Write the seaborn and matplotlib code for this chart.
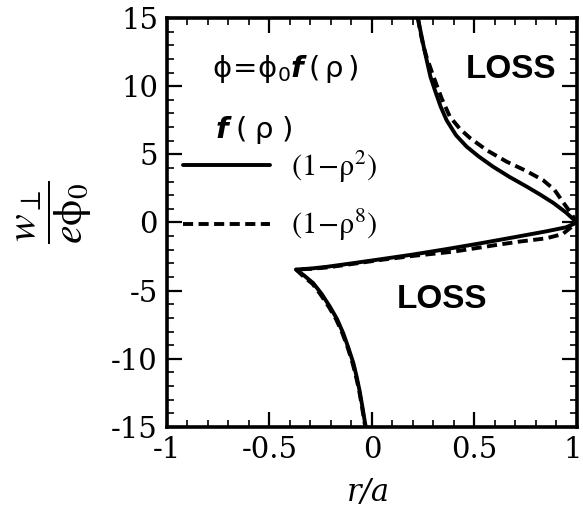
import matplotlib
matplotlib.use("Agg")
import matplotlib.pyplot as plt
from matplotlib.lines import Line2D
from matplotlib.ticker import MultipleLocator
from matplotlib.transforms import ScaledTranslation
import seaborn as sns
import pandas as pd

# curve for f(rho) = 1 - rho^2 (one path: top -> (1,0) -> cusp -> bottom)
r_quad = [0.224, 0.240, 0.255, 0.267, 0.285, 0.307, 0.335, 0.364, 0.41, 0.462,
          0.52, 0.59, 0.67, 0.755, 0.82, 0.885, 0.945, 1.0,
          0.947, 0.85, 0.69, 0.52, 0.364, 0.20, 0.04, -0.10, -0.22, -0.30, -0.37,
          -0.33, -0.286, -0.245, -0.205, -0.17, -0.14, -0.115, -0.091, -0.075,
          -0.061, -0.047, -0.034, -0.03]
w_quad = [15.0, 13.8, 12.7, 11.9, 10.7, 9.7, 8.5, 7.5, 6.4, 5.56,
          4.85, 4.1, 3.35, 2.63, 2.05, 1.43, 0.75, 0.0,
          -0.35, -0.65, -1.09, -1.55, -1.95, -2.35, -2.7, -3.0, -3.25, -3.38, -3.45,
          -3.9, -4.46, -5.25, -6.18, -7.1, -8.13, -9.2, -10.3, -11.3,
          -12.3, -13.5, -14.7, -15.0]

# curve for f(rho) = 1 - rho^8
r_oct = [0.224, 0.234, 0.25, 0.265, 0.30, 0.34, 0.38, 0.43, 0.478, 0.56,
         0.657, 0.75, 0.835, 0.89, 0.93, 0.965, 1.0,
         0.93, 0.85, 0.72, 0.606, 0.50, 0.397, 0.20, 0.04, -0.10, -0.22, -0.30, -0.37,
         -0.335, -0.29, -0.25, -0.21, -0.175, -0.145, -0.118, -0.095, -0.078,
         -0.063, -0.049, -0.036, -0.032]
w_oct = [15.0, 14.1, 13.0, 12.2, 10.7, 9.1, 7.76, 6.85, 6.2, 5.3,
         4.46, 3.8, 3.1, 2.4, 1.53, 0.8, 0.0,
         -0.85, -1.16, -1.4, -1.65, -1.9, -2.14, -2.45, -2.75, -3.05, -3.3, -3.4, -3.45,
         -3.95, -4.5, -5.3, -6.2, -7.1, -8.1, -9.2, -10.3, -11.3,
         -12.3, -13.5, -14.7, -15.0]

profiles = [r"$(1\!-\!\mathrm{\rho}^2)$", r"$(1\!-\!\mathrm{\rho}^8)$"]

df = pd.concat([
    pd.DataFrame({"r": r_quad, "w": w_quad, "profile": profiles[0]}),
    pd.DataFrame({"r": r_oct, "w": w_oct, "profile": profiles[1]}),
])

sns.set_theme(style="ticks")
plt.rcParams["font.family"] = ["DejaVu Serif"]
plt.rcParams["mathtext.fontset"] = "stix"
plt.rcParams["axes.unicode_minus"] = False
for key in ["text.color", "axes.labelcolor", "xtick.color", "ytick.color",
            "axes.edgecolor"]:
    plt.rcParams[key] = "black"

fig = plt.figure(figsize=(5.83, 5.07), dpi=100)
ax = fig.add_axes([0.2864, 0.1578, 0.7033, 0.8067])

dash_map = {profiles[0]: "", profiles[1]: (2.6, 1.4)}
sns.lineplot(data=df, x="r", y="w", style="profile", style_order=profiles,
             dashes=dash_map, color="black", linewidth=2.8, sort=False,
             estimator=None, legend=False, ax=ax)
for ln in ax.lines:
    ln.set_solid_joinstyle("round")
    ln.set_dash_joinstyle("round")

ax.set_xlim(-1, 1)
ax.set_ylim(-15, 15)
ax.xaxis.set_major_locator(MultipleLocator(0.5))
ax.xaxis.set_minor_locator(MultipleLocator(0.1))
ax.yaxis.set_major_locator(MultipleLocator(5))
ax.yaxis.set_minor_locator(MultipleLocator(1))
ax.set_xticks([-1, -0.5, 0, 0.5, 1])
ax.set_xticklabels(["-1", "-0.5", "0", "0.5", "1"])
ax.tick_params(which="both", direction="in", top=True, right=True,
               colors="black", labelsize=21)
ax.tick_params(which="major", length=11, width=1.6, pad=6.5)
ax.tick_params(which="minor", length=5, width=1.2)
for sp in ax.spines.values():
    sp.set_linewidth(2.6)
    sp.set_color("black")

# keep the last x tick label inside the canvas
last = ax.get_xticklabels()[-1]
last.set_transform(last.get_transform() + ScaledTranslation(-4 / 100, 0, fig.dpi_scale_trans))

ax.set_xlabel("r/a", fontsize=22, style="italic", va="center")
ax.xaxis.set_label_coords(0.49, -0.159)
ax.set_ylabel(r"$\dfrac{w_{\perp}}{e\mathrm{\phi}_0}$", fontsize=30, va="center")
ax.yaxis.set_label_coords(-0.273, 0.526)

# annotations
ax.text(-0.78, 10.67, r"$\mathrm{\phi}\!=\!\mathrm{\phi}_0\mathbfit{f}\,(\,\mathrm{\rho}\,)$",
        fontsize=21, math_fontfamily="dejavusans", ha="left", va="baseline")
ax.text(-0.766, 6.2, r"$\mathbfit{f}\;(\;\mathrm{\rho}\;)$", fontsize=21,
        math_fontfamily="dejavusans", ha="left", va="baseline")
for x, y in [(0.678, 11.22), (0.34, -5.66)]:
    ax.text(x, y, "LOSS", family="Liberation Sans", weight="bold", fontsize=24,
            color="black", ha="center", va="center")

handles = [Line2D([], [], color="black", lw=2.8, ls="-"),
           Line2D([], [], color="black", lw=2.8, dashes=(2.6, 1.4))]
ax.legend(handles, profiles, loc="center left", bbox_to_anchor=(0.039, 0.565),
          frameon=False, fontsize=22, handlelength=2.85, handletextpad=0.7,
          labelspacing=0.73, borderpad=0, borderaxespad=0)

fig.savefig("out.png", dpi=100, facecolor="white")
